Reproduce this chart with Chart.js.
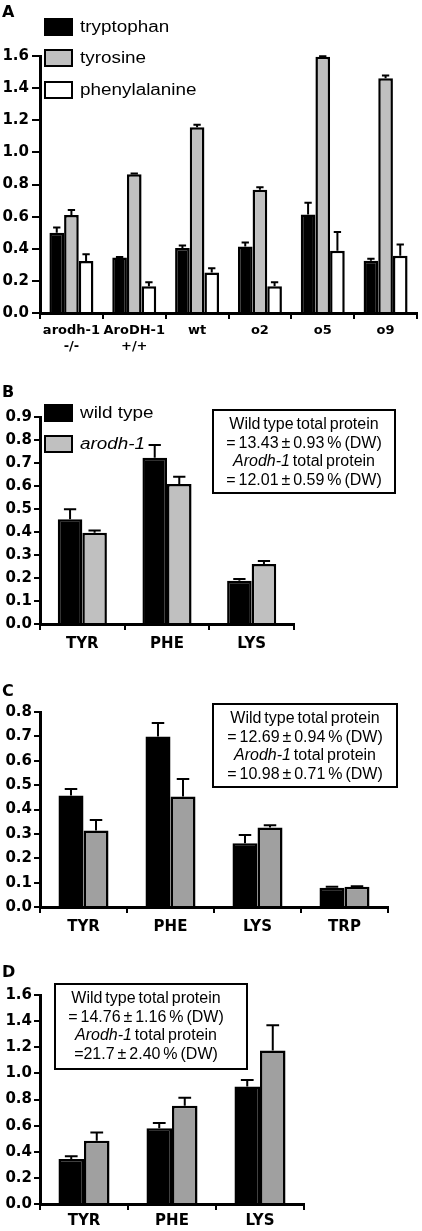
<!DOCTYPE html>
<html><head><meta charset="utf-8">
<script src="https://cdn.jsdelivr.net/npm/chart.js@4"></script>
<style>
body{margin:0;background:#fff;}
#wrap{position:relative;width:422px;height:1231px;overflow:hidden;background:#fff;}
canvas{position:absolute;left:0;}
.t{position:absolute;left:2px;font-family:"DejaVu Sans";font-weight:bold;font-size:16px;line-height:16px;}
.lg{position:absolute;left:44px;height:18px;display:flex;align-items:center;}
.lg .bx{width:29px;height:18px;box-sizing:border-box;border:2px solid #000;flex:none;}
.lg .tx{margin-left:7px;font-family:"Liberation Sans",Arial,sans-serif;font-size:16px;transform:scaleX(1.18);transform-origin:left center;white-space:nowrap;}
.ib{position:absolute;border:2px solid #000;box-sizing:border-box;padding-top:4px;font-family:"Liberation Sans",Arial,sans-serif;font-size:16px;line-height:18.5px;text-align:center;white-space:nowrap;word-spacing:-1.5px;}
</style></head>
<body><div id="wrap">
<canvas id="cA" width="422" height="360" style="top:0px"></canvas>
<canvas id="cB" width="422" height="280" style="top:380px"></canvas>
<canvas id="cC" width="422" height="260" style="top:680px"></canvas>
<canvas id="cD" width="422" height="271" style="top:960px"></canvas>
<div class="t" style="top:3.5px">A</div>
<div class="t" style="top:383.5px">B</div>
<div class="t" style="top:682.5px">C</div>
<div class="t" style="top:963.5px">D</div>
<div id="legA"></div>
<div id="legB"></div>
<div class="ib" style="left:212px;top:409px;width:184px;height:85px">Wild type total protein<br>= 13.43 ± 0.93 % (DW)<br><i>Arodh-1</i> total protein<br>= 12.01 ± 0.59 % (DW)</div>
<div class="ib" style="left:212px;top:703px;width:186px;height:85px">Wild type total protein<br>= 12.69 ± 0.94 % (DW)<br><i>Arodh-1</i> total protein<br>= 10.98 ± 0.71 % (DW)</div>
<div class="ib" style="left:54px;top:983px;width:194px;height:87px;padding-right:10px">Wild type total protein<br>= 14.76 ± 1.16 % (DW)<br><i>Arodh-1</i> total protein<br>=21.7 ± 2.40 % (DW)</div>
</div>
<script>
// ---- Panel A ----
const catsA = [["arodh-1","-/-"],["AroDH-1","+/+"],"wt","o2","o5","o9"];
const namesA = ["tryptophan","tyrosine","phenylalanine"];
const tryptophanA = [0.50, 0.345, 0.404, 0.414, 0.614, 0.325];
const tryptophanErrA = [0.032, 0.004, 0.016, 0.025, 0.072, 0.012];
const tyrosineA = [0.61, 0.864, 1.156, 0.767, 1.595, 1.462];
const tyrosineErrA = [0.031, 0.004, 0.016, 0.016, 0.004, 0.016];
const phenylalanineA = [0.324, 0.167, 0.252, 0.167, 0.388, 0.357];
const phenylalanineErrA = [0.041, 0.025, 0.027, 0.025, 0.117, 0.07];
const yTicksA = [0,0.2,0.4,0.6,0.8,1.0,1.2,1.4,1.6];

// ---- Panel B ----
const catsB = ["TYR","PHE","LYS"];
const wildB = [0.455, 0.723, 0.188];
const wildErrB = [0.044, 0.055, 0.008];
const arodhB = [0.397, 0.609, 0.261];
const arodhErrB = [0.010, 0.031, 0.013];
const yTicksB = [0,0.1,0.2,0.3,0.4,0.5,0.6,0.7,0.8,0.9];

// ---- Panel C ----
const catsC = ["TYR","PHE","LYS","TRP"];
const wildC = [0.457, 0.700, 0.262, 0.079];
const wildErrC = [0.027, 0.055, 0.033, 0.004];
const arodhC = [0.314, 0.453, 0.326, 0.083];
const arodhErrC = [0.043, 0.072, 0.009, 0.002];
const yTicksC = [0,0.1,0.2,0.3,0.4,0.5,0.6,0.7,0.8];

// ---- Panel D ----
const catsD = ["TYR","PHE","LYS"];
const wildD = [0.344, 0.580, 0.899];
const wildErrD = [0.021, 0.040, 0.050];
const arodhD = [0.484, 0.752, 1.176];
const arodhErrD = [0.063, 0.061, 0.193];
const yTicksD = [0,0.2,0.4,0.6,0.8,1.0,1.2,1.4,1.6];

const seriesNamesBCD = ["wild type","arodh-1"];

const errorBars = {
  id:'errorBars',
  afterDatasetsDraw(chart){
    const ctx = chart.ctx, ys = chart.scales.y;
    chart.data.datasets.forEach((ds, di) => {
      const meta = chart.getDatasetMeta(di);
      meta.data.forEach((bar, i) => {
        const e = ds.errors ? ds.errors[i] : 0;
        if (!e) return;
        const top = ys.getPixelForValue(ds.data[i] + e);
        const x = bar.x, w = bar.width * 0.5;
        ctx.save();
        ctx.strokeStyle = '#000'; ctx.lineWidth = 2;
        ctx.beginPath();
        ctx.moveTo(x, bar.y); ctx.lineTo(x, top);
        ctx.moveTo(x - w/2, top); ctx.lineTo(x + w/2, top);
        ctx.stroke();
        ctx.restore();
      });
    });
  }
};

function makeChart(id, cats, series, yTicks, o){
  return new Chart(document.getElementById(id), {
    type:'bar',
    data:{labels:cats, datasets:series.map(s => ({
      label:s.label, data:s.data, errors:s.err, backgroundColor:s.color,
      borderColor:'#000', borderWidth:2.5, categoryPercentage:o.cat, barPercentage:1
    }))},
    options:{
      responsive:false, animation:false, devicePixelRatio:1,
      layout:{padding:{top:o.top, right:o.right, left:0, bottom:0}},
      plugins:{legend:{display:false}, tooltip:{enabled:false}},
      scales:{
        x:{
          grid:{drawOnChartArea:false, color:'#000', lineWidth:2, tickLength:6, offset:true},
          border:{color:'#000', width:3},
          ticks:{color:'#000', font:{family:'DejaVu Sans', weight:'bold', size:o.xFont, lineHeight:1.2}, padding:o.xPad, maxRotation:0, autoSkip:false},
          afterFit:s => { s.height = o.xH; }
        },
        y:{
          min:yTicks[0], max:yTicks[yTicks.length-1],
          afterBuildTicks:s => { s.ticks = yTicks.map(v => ({value:v})); },
          grid:{drawOnChartArea:false, color:'#000', lineWidth:2, tickLength:o.yTL},
          border:{color:'#000', width:3},
          ticks:{color:'#000', font:{family:'DejaVu Sans', weight:'bold', size:o.yFont}, padding:o.yPad, callback:v => Number(v).toFixed(1)},
          afterFit:s => { s.width = 40; }
        }
      }
    },
    plugins:[errorBars]
  });
}

const colA = ['#000000','#c0c0c0','#ffffff'];
makeChart('cA', catsA, [
  {label:namesA[0], data:tryptophanA, err:tryptophanErrA, color:colA[0]},
  {label:namesA[1], data:tyrosineA, err:tyrosineErrA, color:colA[1]},
  {label:namesA[2], data:phenylalanineA, err:phenylalanineErrA, color:colA[2]}
], yTicksA, {cat:0.70, top:56, right:5, xH:47, xFont:13, xPad:4, yFont:15, yTL:8, yPad:3});

const colB = ['#000000','#c0c0c0'];
makeChart('cB', catsB, [
  {label:seriesNamesBCD[0], data:wildB, err:wildErrB, color:colB[0]},
  {label:seriesNamesBCD[1], data:arodhB, err:arodhErrB, color:colB[1]}
], yTicksB, {cat:0.58, top:37, right:128, xH:36, xFont:15, xPad:5, yFont:15, yTL:6, yPad:2});

const colCD = ['#000000','#a0a0a0'];
makeChart('cC', catsC, [
  {label:seriesNamesBCD[0], data:wildC, err:wildErrC, color:colCD[0]},
  {label:seriesNamesBCD[1], data:arodhC, err:arodhErrC, color:colCD[1]}
], yTicksC, {cat:0.575, top:32, right:34, xH:33, xFont:15, xPad:5, yFont:15, yTL:6, yPad:2});

makeChart('cD', catsD, [
  {label:seriesNamesBCD[0], data:wildD, err:wildErrD, color:colCD[0]},
  {label:seriesNamesBCD[1], data:arodhD, err:arodhErrD, color:colCD[1]}
], yTicksD, {cat:0.58, top:35, right:118, xH:27, xFont:15, xPad:2, yFont:15, yTL:6, yPad:2});

// legends
function legend(containerId, names, colors, tops, italic){
  const c = document.getElementById(containerId);
  names.forEach((n, i) => {
    const row = document.createElement('div');
    row.className = 'lg'; row.style.top = tops[i] + 'px';
    const bx = document.createElement('div'); bx.className = 'bx'; bx.style.background = colors[i];
    const tx = document.createElement('div'); tx.className = 'tx'; tx.textContent = n;
    if (italic[i]) tx.style.fontStyle = 'italic';
    row.appendChild(bx); row.appendChild(tx); c.appendChild(row);
  });
}
legend('legA', namesA, colA, [17.5, 49, 80.5], [false,false,false]);
legend('legB', seriesNamesBCD, colB, [404, 435], [false,true]);
</script>
</body></html>
